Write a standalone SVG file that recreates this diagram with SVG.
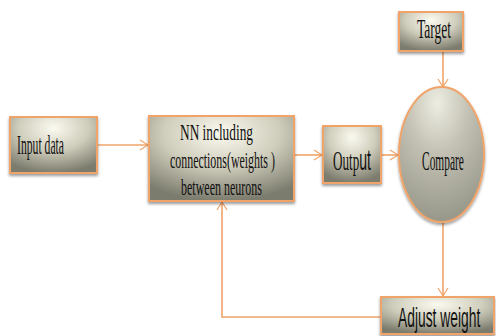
<svg xmlns="http://www.w3.org/2000/svg" width="496" height="336" viewBox="0 0 496 336">
<defs>
<radialGradient id="g" cx="0.5" cy="0.2" r="0.8">
<stop offset="0" stop-color="#fbfaf0"/>
<stop offset="0.5" stop-color="#cfcdbb"/>
<stop offset="1" stop-color="#7c7c6e"/>
</radialGradient>
<radialGradient id="ge" cx="0.45" cy="0.12" r="0.9">
<stop offset="0" stop-color="#eeede2"/>
<stop offset="0.4" stop-color="#c3c2b4"/>
<stop offset="1" stop-color="#959588"/>
</radialGradient>
<marker id="a" markerWidth="10" markerHeight="12" refX="9" refY="6" orient="auto" markerUnits="userSpaceOnUse">
<path d="M1,1 L9,6 L1,11" fill="none" stroke="#f0a46a" stroke-width="1.2"/>
</marker>
<filter id="s" x="-10%" y="-10%" width="120%" height="130%">
<feGaussianBlur in="SourceAlpha" stdDeviation="1.5"/>
<feOffset dy="2"/>
<feComponentTransfer><feFuncA type="linear" slope="0.4"/></feComponentTransfer>
<feMerge><feMergeNode/><feMergeNode in="SourceGraphic"/></feMerge>
</filter>
</defs>
<style>
.box{fill:url(#g);stroke:#f0a46a;stroke-width:2;filter:url(#s)}
.ell{fill:url(#ge);stroke:#f0a46a;stroke-width:2;filter:url(#s)}
.t{font-family:"Liberation Serif",serif;font-size:28px;fill:#111}
.n{font-family:"Liberation Serif",serif;font-size:24px;fill:#111}
.c{fill:none;stroke:#f0a46a;stroke-width:1.6;marker-end:url(#a)}
</style>
<rect width="496" height="336" fill="#fff"/>
<g id="connectors">
<line class="c" x1="97" y1="145" x2="148" y2="145"/>
<line class="c" x1="294" y1="155" x2="322" y2="155"/>
<line class="c" x1="381" y1="155" x2="398" y2="155"/>
<line class="c" x1="443" y1="51" x2="443" y2="87"/>
<line class="c" x1="443" y1="222" x2="443" y2="296"/>
<polyline class="c" points="381,317 222,317 222,202"/>
</g>
<g id="input">
<rect class="box" x="10" y="117" width="87" height="56"/>
<text class="t" transform="translate(17,154) scale(0.417,1)">Input data</text>
</g>
<g id="nn">
<rect class="box" x="149" y="116" width="145" height="85"/>
<text class="n" transform="translate(180,140) scale(0.556,1)">NN including</text>
<text class="n" transform="translate(170,168) scale(0.497,1)">connections(weights )</text>
<text class="n" transform="translate(181,195) scale(0.5,1)">between neurons</text>
</g>
<g id="output">
<rect class="box" x="323" y="126" width="58" height="57"/>
<text class="t" transform="translate(333,170) scale(0.469,1)">Outp<tspan font-family="'Liberation Sans',sans-serif" font-size="30">ut</tspan></text>
</g>
<g id="target">
<rect class="box" x="399" y="12" width="64" height="39"/>
<text class="t" font-size="23" transform="translate(417,38) scale(0.483,1)">Target</text>
</g>
<g id="compare">
<ellipse class="ell" cx="441.5" cy="154.5" rx="42.5" ry="67.5"/>
<text class="t" transform="translate(422,170) scale(0.409,1)">Compare</text>
</g>
<g id="adjust">
<rect class="box" x="381" y="297" width="113" height="37"/>
<text font-family="'Liberation Sans',sans-serif" font-size="28" fill="#111" transform="translate(398,327) scale(0.494,1)">Adjust weight</text>
</g>
</svg>
